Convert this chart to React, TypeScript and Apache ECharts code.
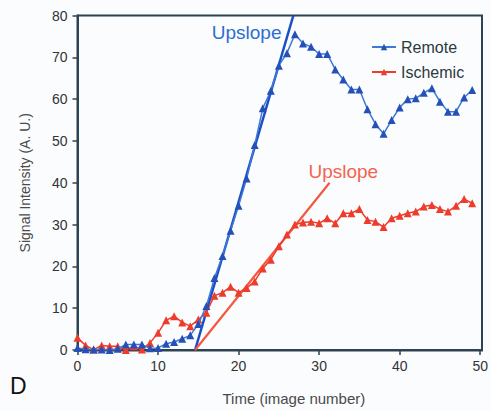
import React, { useEffect, useRef } from "react";
import * as echarts from "echarts";

const timePoints = Array.from({ length: 50 }, (_, i) => i);
const remote = [0.5, 0.2, 0.1, 0.1, 0, 0.3, 1.3, 1.3, 1.3, 0.4, 0.5, 1.5, 1.9, 2.7, 3.5, 6.2, 10.5, 17.2, 22.5, 28.5, 34.5, 41, 49, 57.8, 62, 68, 71, 75.5, 73.3, 72.5, 70.8, 70.8, 67.1, 64.7, 62.3, 62.3, 57.6, 54, 51.7, 55, 58, 60, 60.2, 61.5, 62.6, 59.4, 57, 57, 60.4, 62.2];
const ischemic = [2.9, 1.1, 0.1, 1.1, 0.9, 0.9, 0, 0.9, 0.1, 1.7, 4.1, 7.1, 8.1, 6.6, 5.7, 7.3, 8.9, 13, 13.7, 15.1, 13.7, 14.8, 16.4, 19.5, 21.6, 24.8, 27.6, 30, 30.5, 30.7, 30.3, 31.5, 30.3, 32.7, 32.7, 33.7, 31.1, 30.7, 29.4, 31.5, 32.1, 32.7, 33.1, 34.3, 34.7, 33.7, 33.1, 34.5, 36.1, 35.1];
const remoteUpslope = [[14.6, 0], [26.8, 80]];
const ischemicUpslope = [[14.6, 0], [31.3, 40]];
const remoteLabelAt = [21, 76];
const ischemicLabelAt = [33, 42.8];
const xTicks = [0, 50, 10];
const yTicks = [0, 80, 10];

const BLUE = "#2450b8";
const BLUE_LINE = "#3c7ad6";
const RED = "#ee3b2b";
const AXIS = "#2c4352";
const FONT = "Liberation Sans, Arial, sans-serif";

export default function App() {
  const ref = useRef<HTMLDivElement>(null);
  useEffect(() => {
    if (!ref.current) return;
    const chart = echarts.init(ref.current, null, { renderer: "svg" });
    const zip = (arr: number[]) => arr.map((v, i) => [timePoints[i], v]);
    chart.setOption({
      animation: false,
      backgroundColor: "#fbfcfe",
      textStyle: { fontFamily: FONT },
      grid: { left: 77.5, right: 9, top: 15.5, bottom: 60.5 },
      legend: {
        orient: "vertical",
        left: 366,
        top: 34,
        itemWidth: 24,
        itemHeight: 8,
        itemGap: 9,
        textStyle: { fontSize: 16, color: "#2a3a40", fontFamily: FONT },
        data: ["Remote", "Ischemic"],
      },
      xAxis: {
        type: "value",
        min: xTicks[0],
        max: xTicks[1],
        interval: xTicks[2],
        name: "Time (image number)",
        nameLocation: "middle",
        nameGap: 41,
        nameTextStyle: { fontSize: 15, color: "#4a4a4a", fontFamily: FONT, padding: [0, 0, 0, 30] },
        axisLine: { show: true, lineStyle: { color: AXIS, width: 2 } },
        axisTick: { show: true, inside: false, length: 5, lineStyle: { color: AXIS, width: 1.5 } },
        axisLabel: { fontSize: 14, color: "#333", margin: 9, fontFamily: FONT },
        splitLine: { show: false },
      },
      yAxis: {
        type: "value",
        min: yTicks[0],
        max: yTicks[1],
        interval: yTicks[2],
        name: "Signal Intensity (A. U.)",
        nameLocation: "middle",
        nameGap: 46,
        nameTextStyle: { fontSize: 14, color: "#4a4a4a", fontFamily: FONT, padding: [0, 0, 0, 0] },
        axisLine: { show: true, lineStyle: { color: AXIS, width: 2 } },
        axisTick: { show: true, inside: false, length: 5, lineStyle: { color: AXIS, width: 1.5 } },
        axisLabel: { fontSize: 14, color: "#333", margin: 10, fontFamily: FONT },
        splitLine: { show: false },
      },
      graphic: [
        {
          type: "rect",
          shape: { x: 77.5, y: 15.5, width: 404.5, height: 335 },
          style: { fill: "none", stroke: AXIS, lineWidth: 2 },
          silent: true,
          z: 0,
        },
        {
          type: "text",
          left: 10,
          top: 374,
          style: { text: "D", fontSize: 23, fill: "#111", fontFamily: FONT },
        },
      ],
      series: [
        {
          name: "Remote Upslope",
          type: "line",
          data: remoteUpslope,
          symbol: "none",
          lineStyle: { color: "#1a4fc4", width: 2.5 },
          z: 3,
          markPoint: {
            symbol: "circle",
            symbolSize: 0,
            data: [{ coord: remoteLabelAt }],
            label: { show: true, formatter: "Upslope", color: "#2e6cd0", fontSize: 19, fontFamily: FONT, position: "inside" },
          },
        },
        {
          name: "Ischemic Upslope",
          type: "line",
          data: ischemicUpslope,
          symbol: "none",
          lineStyle: { color: "#f2593f", width: 2.2 },
          z: 3,
          markPoint: {
            symbol: "circle",
            symbolSize: 0,
            data: [{ coord: ischemicLabelAt }],
            label: { show: true, formatter: "Upslope", color: "#f2654f", fontSize: 19, fontFamily: FONT, position: "inside" },
          },
        },
        {
          name: "Ischemic",
          type: "line",
          data: zip(ischemic),
          symbol: "triangle",
          symbolSize: 8,
          itemStyle: { color: RED },
          lineStyle: { color: RED, width: 1.5 },
          z: 4,
        },
        {
          name: "Remote",
          type: "line",
          data: zip(remote),
          symbol: "triangle",
          symbolSize: 8,
          itemStyle: { color: BLUE },
          lineStyle: { color: BLUE_LINE, width: 1.5 },
          z: 5,
        },
      ],
    });
    return () => chart.dispose();
  }, []);
  return <div ref={ref} style={{ width: 491, height: 411, position: "absolute", left: 0, top: 0 }} />;
}
